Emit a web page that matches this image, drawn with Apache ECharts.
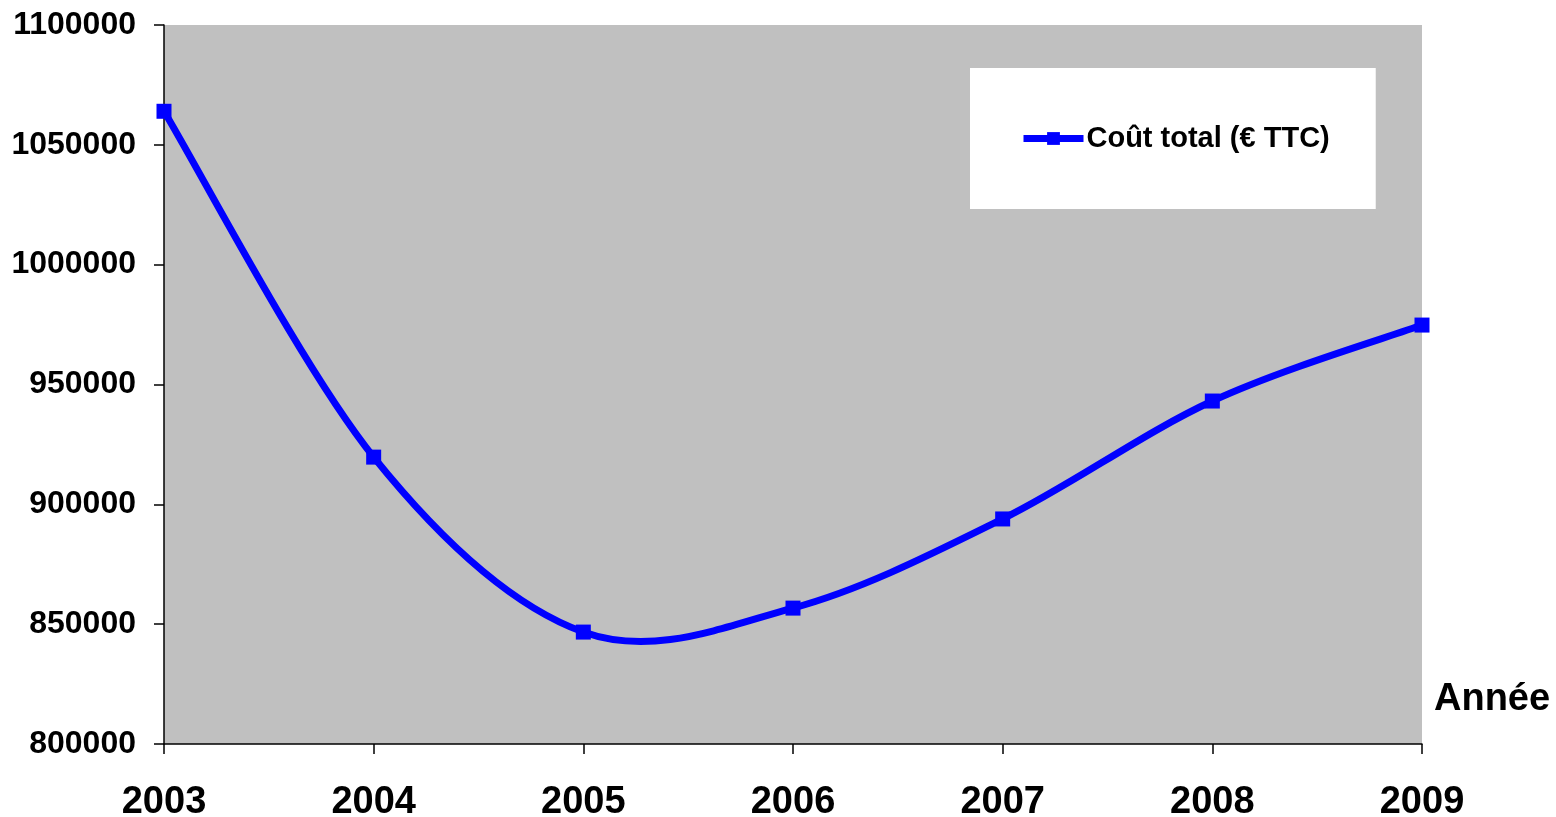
<!DOCTYPE html>
<html>
<head>
<meta charset="utf-8">
<script src="https://cdn.jsdelivr.net/npm/echarts@6/dist/echarts.min.js"></script>
<style>
  html, body { margin: 0; padding: 0; background: #fff; }
  #chart { width: 1556px; height: 817px; }
</style>
</head>
<body>
<div id="chart"></div>
<script>
const years = ['2003', '2004', '2005', '2006', '2007', '2008', '2009'];
const coutTotal = [1064000, 919700, 846700, 856700, 893900, 943100, 974800];
const seriesName = 'Coût total (€ TTC)';

function initChart() {
    const chartDom = document.getElementById('chart');
    const myChart = echarts.init(chartDom);
    const font = 'Liberation Sans, Arial, sans-serif';
    const blue = '#0000ff';
    const n = coutTotal.length;

    // courbe lissée façon Excel (Catmull-Rom), un segment par point
    function renderSegment(params, api) {
        const i = params.dataIndex;
        if (i >= n - 1) return null;
        const pt = j => {
            const k = Math.max(0, Math.min(n - 1, j));
            return api.coord([k, coutTotal[k]]);
        };
        const p0 = pt(i - 1), p1 = pt(i), p2 = pt(i + 1), p3 = pt(i + 2);
        const c1 = [p1[0] + (p2[0] - p0[0]) / 6, p1[1] + (p2[1] - p0[1]) / 6];
        const c2 = [p2[0] - (p3[0] - p1[0]) / 6, p2[1] - (p3[1] - p1[1]) / 6];
        return {
            type: 'bezierCurve',
            shape: { x1: p1[0], y1: p1[1], cpx1: c1[0], cpy1: c1[1], cpx2: c2[0], cpy2: c2[1], x2: p2[0], y2: p2[1] },
            style: { stroke: blue, lineWidth: 7, fill: null, lineCap: 'round' },
            silent: true
        };
    }

    myChart.setOption({
        animation: false,
        grid: {
            left: 164, right: 134, top: 25, bottom: 73,
            outerBoundsMode: 'none',
            show: true, backgroundColor: '#c0c0c0', borderWidth: 0
        },
        legend: {
            left: 970, top: 68,
            backgroundColor: '#ffffff',
            padding: [56, 46, 56, 50],
            itemWidth: 60, itemHeight: 16, itemGap: 0,
            lineStyle: { color: blue, width: 7 },
            textStyle: { fontFamily: font, fontWeight: 'bold', fontSize: 29, color: '#000', padding: [0, 0, 0, -2] },
            data: [seriesName]
        },
        xAxis: {
            type: 'category', data: years, boundaryGap: false,
            axisLine: { lineStyle: { color: '#000', width: 1.5 } },
            axisTick: { show: true, length: 10, alignWithLabel: true, lineStyle: { color: '#000', width: 1.5 } },
            axisLabel: { margin: 40, fontFamily: font, fontWeight: 'bold', fontSize: 38, color: '#000' },
            splitLine: { show: false }
        },
        yAxis: {
            type: 'value', min: 800000, max: 1100000, interval: 50000,
            axisLine: { show: true, lineStyle: { color: '#000', width: 1.5 } },
            axisTick: { show: true, length: 10, lineStyle: { color: '#000', width: 1.5 } },
            axisLabel: {
                margin: 28, fontFamily: font, fontWeight: 'bold', fontSize: 32, color: '#000',
                formatter: v => String(v)
            },
            splitLine: { show: false }
        },
        graphic: [{
            type: 'text', left: 1434, top: 681,
            style: { text: 'Année', font: 'bold 38px ' + font, fill: '#000' }
        }],
        series: [{
            name: 'courbe', type: 'custom',
            data: coutTotal.map((v, i) => [i, v]),
            renderItem: renderSegment,
            z: 2
        }, {
            name: seriesName, type: 'line', data: coutTotal,
            symbol: 'rect', symbolSize: 15,
            itemStyle: { color: blue },
            lineStyle: { color: blue, width: 0 },
            z: 3
        }]
    });
    window.addEventListener('resize', () => myChart.resize());
}

document.addEventListener('DOMContentLoaded', initChart);
</script>
</body>
</html>
